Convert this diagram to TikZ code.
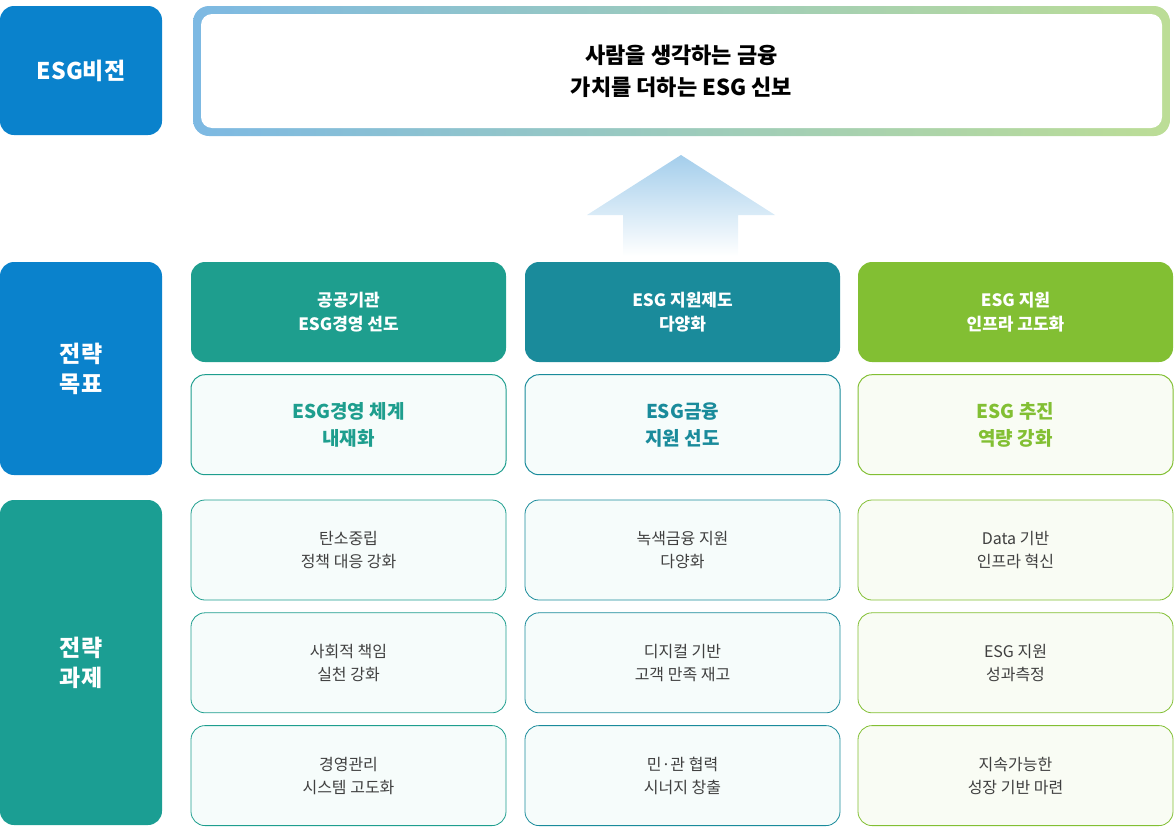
\documentclass[tikz,border=0pt]{standalone}
\usepackage{fontspec}
\setmainfont{Noto Sans CJK KR}
\usetikzlibrary{positioning}
\definecolor{esgblue}{HTML}{0A82CC}
\definecolor{esgteal}{HTML}{1B9E93}
\definecolor{colA}{HTML}{1E9E8E}
\definecolor{colB}{HTML}{1A8B9B}
\definecolor{colC}{HTML}{82BF33}
\definecolor{gradL}{HTML}{7DB9E3}
\definecolor{gradR}{HTML}{BCDD96}
\definecolor{paleA}{HTML}{F6FCFB}
\definecolor{paleC}{HTML}{F9FCF4}
\tikzset{
  side/.style={rounded corners=14pt,minimum width=162pt,text=white,font=\bfseries\fontsize{23}{30}\selectfont,align=center,inner sep=0pt},
  head/.style={rounded corners=14pt,minimum width=315pt,minimum height=100pt,text=white,font=\bfseries\fontsize{17}{24}\selectfont,align=center,inner sep=0pt},
  goal/.style={draw=#1,rounded corners=14pt,minimum width=315pt,minimum height=100pt,text=#1,font=\bfseries\fontsize{19}{27}\selectfont,align=center,inner sep=0pt,line width=1pt},
  task/.style={draw=#1,fill=paleA,rounded corners=14pt,minimum width=315pt,minimum height=100pt,text=black!75,font=\fontsize{16}{23}\selectfont,align=center,inner sep=0pt,line width=0.8pt}
}
\begin{document}
\begin{tikzpicture}[x=1pt,y=-1pt]
\useasboundingbox (0,0) rectangle (1175,830);
% left labels
\node[side,fill=esgblue,minimum height=129pt] (vis) at (81,70.5) {ESG비전};
\node[side,fill=esgblue,minimum height=213pt] (goals) at (81,368.5) {전략\\목표};
\node[side,fill=esgteal,minimum height=325pt] (tasks) at (81,662.5) {전략\\과제};
% vision box
\shade[left color=gradL,right color=gradR,rounded corners=16pt] (193,6) rectangle (1170,136);
\fill[white,rounded corners=11pt] (201,14) rectangle (1162,128);
\node[font=\bfseries\fontsize{22}{32}\selectfont,align=center] (vtext) at (681.5,71) {사람을 생각하는 금융\\가치를 더하는 ESG 신보};
% arrow
\shade[top color=gradL!70,bottom color=white] (681,155) -- (775,215) -- (738,215) -- (738,256) -- (623,256) -- (623,215) -- (587,215) -- cycle;
% columns
\node[head,fill=colA] (h1) at (348.5,312) {공공기관\\ESG경영 선도};
\node[head,fill=colB] (h2) at (682.5,312) {ESG 지원제도\\다양화};
\node[head,fill=colC] (h3) at (1015.5,312) {ESG 지원\\인프라 고도화};
\node[goal=colA,fill=paleA,below=12pt of h1] (g1) {ESG경영 체계\\내재화};
\node[goal=colB,fill=paleA,below=12pt of h2] (g2) {ESG금융\\지원 선도};
\node[goal=colC,fill=paleC,below=12pt of h3] (g3) {ESG 추진\\역량 강화};
\node[task=colA] (t11) at (348.5,550) {탄소중립\\정책 대응 강화};
\node[task=colA,below=12pt of t11] (t12) {사회적 책임\\실천 강화};
\node[task=colA,below=12pt of t12] (t13) {경영관리\\시스템 고도화};
\node[task=colB] (t21) at (682.5,550) {녹색금융 지원\\다양화};
\node[task=colB,below=12pt of t21] (t22) {디지컬 기반\\고객 만족 재고};
\node[task=colB,below=12pt of t22] (t23) {민·관 협력\\시너지 창출};
\node[task=colC,fill=paleC] (t31) at (1015.5,550) {Data 기반\\인프라 혁신};
\node[task=colC,fill=paleC,below=12pt of t31] (t32) {ESG 지원\\성과측정};
\node[task=colC,fill=paleC,below=12pt of t32] (t33) {지속가능한\\성장 기반 마련};
\end{tikzpicture}
\end{document}
